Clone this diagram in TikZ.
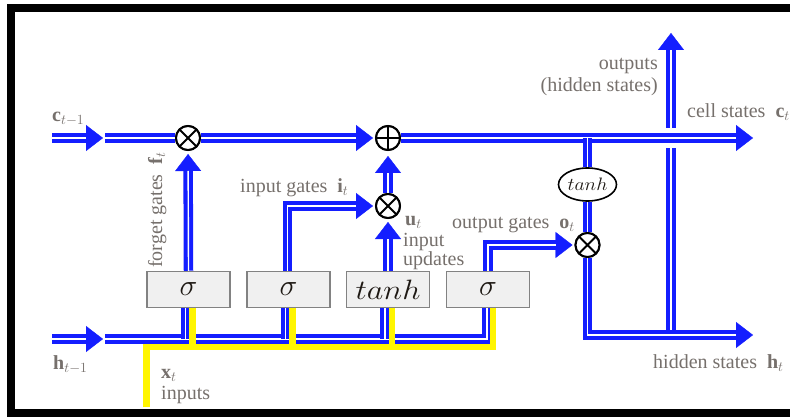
\documentclass[tikz,border=0pt]{standalone}
\usepackage{fix-cm}
\usepackage{fontspec}
\setmainfont{Liberation Serif}
\usepackage{graphicx}
\usetikzlibrary{arrows.meta,shapes.geometric,calc}
\definecolor{lblue}{RGB}{20,30,255}
\definecolor{lyellow}{RGB}{255,245,0}
\definecolor{txtgray}{RGB}{118,112,108}
\definecolor{boxfill}{RGB}{240,240,240}
\definecolor{boxline}{RGB}{130,130,130}
\definecolor{boxtext}{RGB}{30,25,20}
\begin{document}
\begin{tikzpicture}[x=1pt,y=-1pt,
  dl/.style={draw=lblue, line width=9.5pt, postaction={draw=white, line width=1.4pt}},
  tipA/.style={-{Triangle[length=17pt,width=26pt,line width=0.4pt]}},
  dlaA/.style={draw=lblue, line width=9.5pt, tipA, postaction={draw=white, line width=1.4pt, -, shorten >=17pt}},
  dlaB/.style={draw=lblue, line width=9.5pt, tipA, shorten >=2pt, postaction={draw=white, line width=1.4pt, -, shorten >=19pt}},
  dlaC/.style={draw=lblue, line width=9.5pt, tipA, shorten >=3pt, postaction={draw=white, line width=1.4pt, -, shorten >=20pt}},
  dlaD/.style={draw=lblue, line width=9.5pt, tipA, shorten >=5pt, postaction={draw=white, line width=1.4pt, -, shorten >=22pt}},
  yl/.style={draw=lyellow, line width=6.5pt},
  box/.style={draw=boxline, fill=boxfill, line width=1.5pt, minimum width=83pt, minimum height=36pt, inner sep=0pt, text=boxtext, font=\fontsize{30}{34}\selectfont},
  mult/.style={circle, draw=black, line width=2pt, fill=white, minimum size=24pt, inner sep=0pt,
    path picture={\draw[line width=1.8pt] (path picture bounding box.north west) -- (path picture bounding box.south east)
      (path picture bounding box.north east) -- (path picture bounding box.south west);}},
  addc/.style={circle, draw=black, line width=2pt, fill=white, minimum size=24pt, inner sep=0pt,
    path picture={\draw[line width=1.8pt] (path picture bounding box.north) -- (path picture bounding box.south)
      (path picture bounding box.east) -- (path picture bounding box.west);}},
  lbl/.style={font=\fontsize{20}{22}\selectfont, text=txtgray, inner sep=0pt, anchor=base west}
]
\clip (0,0) rectangle (790,417);
\useasboundingbox (0,0) rectangle (790,417);
\fill[white] (0,0) rectangle (790,417);

% frame
\draw[line width=8pt] (10.5,8) rectangle (800,413);

% boxes
\node[box] (b1) at (188.5,289.5) {$\sigma$};
\node[box] (b2) at (288.5,289.5) {$\sigma$};
\node[box] (b3) at (388,289.5) {\fontsize{28}{32}\selectfont\scalebox{1.15}[1]{$tanh$}};
\node[box] (b4) at (488,289.5) {$\sigma$};

% operators
\node[mult] (m1) at (188,138) {};
\node[addc] (plus) at (388,138) {};
\node[mult] (m2) at (388,206) {};
\node[mult] (m3) at (587.5,245) {};
\node[ellipse, draw=black, line width=1.6pt, fill=white, minimum width=58pt, minimum height=33pt, inner sep=0pt, text=boxtext]
  (th) at (587.5,184.5) {\fontsize{18}{20}\selectfont\scalebox{1.1}[1]{$tanh$}};

% coordinates
\coordinate (cin) at (52,138);
\coordinate (cinE) at (103,138);
\coordinate (cinS) at (105,138);
\coordinate (cout) at (753,138);
\coordinate (hin) at (52,339);
\coordinate (hinE) at (103,339);
\coordinate (hinS) at (105,339);
\coordinate (tj) at (587.5,138);
\coordinate (hout) at (753,335);
\coordinate (oj) at (671,335);
\coordinate (ob) at (671,148);
\coordinate (ot) at (671,128);
\coordinate (otop) at (671,33);
\coordinate (xin) at (146.5,407);
\coordinate (ybar) at (146.5,347);

% hidden input line and stems
\draw[dlaA] (hin) -- (hinE);
\draw[dl] (hinS) -| ([xshift=-1pt]b4.south);
\foreach \b in {b1,b2,b3}
  \draw[dl] ([xshift=-3pt]\b.south) -- ([xshift=-3pt]\b.south |- hinS);

% inputs x_t (yellow)
\draw[yl] (xin) -- (ybar) -| ([xshift=5pt]b4.south);
\foreach \b in {b1,b2,b3}
  \draw[yl] ([xshift=4pt]\b.south) -- ([xshift=4pt]\b.south |- ybar);

% gates
\draw[dlaC] (b1.north) -- (m1);
\draw[dlaB] ([xshift=-1pt]b2.north) |- (m2);
\draw[dlaC] (b3.north) -- (m2);
\draw[dlaD] (m2) -- (plus);
\draw[dlaB] (b4.north) |- (m3);

% output vertical (drawn before cell line)
\draw[dl] (oj) -- (ob);
\draw[dlaA] (ot) -- (otop);

% cell state line
\draw[dlaA] (cin) -- (cinE);
\draw[dl] (cinS) -- (m1);
\draw[dlaB] (m1) -- (plus);
\draw[dlaA] (plus) -- (cout);

% output path
\draw[dl] (tj) -- (th);
\draw[dl] (th) -- (m3);
\draw[dlaA] (m3) |- (hout);

% redraw operators on top
\node[mult] at (m1) {};
\node[addc] at (plus) {};
\node[mult] at (m2) {};
\node[mult] at (m3) {};

% labels
\node[lbl] (lc) at (52,122) {$\mathbf{c}_{t-1}$};
\node[lbl] (lh) at (53,369) {$\mathbf{h}_{t-1}$};
\node[lbl] (lx) at (161,378) {$\mathbf{x}_t$};
\node[lbl] (lxi) at (161,399) {inputs};
\node[lbl, rotate=90] (lf) at (162,268) {forget gates\ \ $\mathbf{f}_t$};
\node[lbl] (li) at (240,193) {input gates\ \ $\mathbf{i}_t$};
\node[lbl] (lu) at (405,225) {$\mathbf{u}_t$};
\node[lbl, align=left, font=\fontsize{20}{19}\selectfont] (lu1) at (403,265) {input\\updates};
\node[lbl] (lo) at (452,228) {output gates\ \ $\mathbf{o}_t$};
\node[lbl, anchor=base east] (lout1) at (658,70) {outputs};
\node[lbl, anchor=base east] (lout2) at (658,92) {(hidden states)};
\node[lbl] (lcs) at (687,118) {cell states\ \ $\mathbf{c}_t$};
\node[lbl] (lhs) at (653,368) {hidden states\ \ $\mathbf{h}_t$};
\end{tikzpicture}
\end{document}
